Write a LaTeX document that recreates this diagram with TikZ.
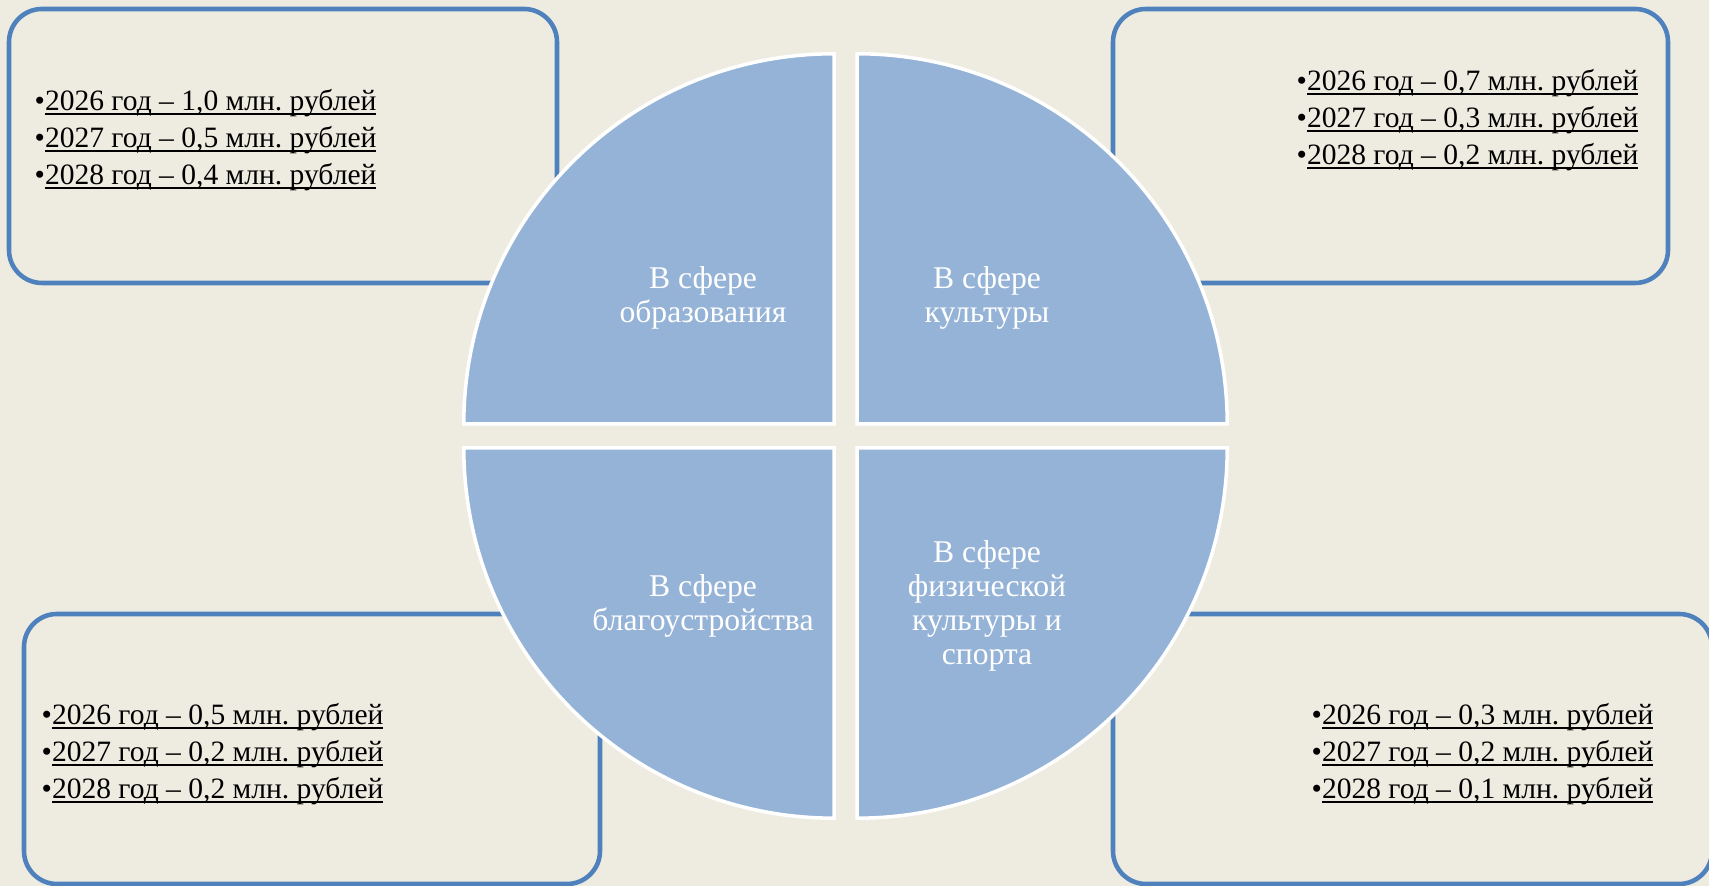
\documentclass[tikz,border=0pt]{standalone}
\usepackage{fontspec}
\setmainfont{Liberation Serif}
\definecolor{bgpaper}{HTML}{EEECE1}
\definecolor{boxline}{HTML}{4F81BD}
\definecolor{sectorfill}{HTML}{95B3D7}
\newcommand{\sumline}[1]{\setbox0\hbox{#1}\rlap{\rule[-1.3pt]{\wd0}{0.55pt}}\box0}
\frenchspacing
\begin{document}
\begin{tikzpicture}[x=0.01cm, y=0.01cm,
		sumbox/.style={draw=boxline, line width=1.3pt, rounded corners=0.33cm, fill=bgpaper},
		quarter/.style={fill=sectorfill, draw=white, line width=1pt},
		sectortext/.style={text=white, align=center, inner sep=0pt, font=\fontsize{9}{9.6}\selectfont},
		sumlist/.style={align=left, anchor=west, inner sep=0pt, font=\fontsize{8.4}{10.5}\selectfont}]
	\fill[bgpaper] (0,0) rectangle (1709,886);
	\useasboundingbox (0,0) rectangle (1709,886);
	\clip (0,0) rectangle (1709,886);
	
	\draw[sumbox] (9,603) rectangle (557,877);
	\draw[sumbox] (1113,603) rectangle (1668,877);
	\draw[sumbox] (24,2) rectangle (600,272);
	\draw[sumbox] (1113,2) rectangle (1712,272);
	
	\node[sumlist] (eduSum) at (34,746) {•\sumline{2026 год – 1,0 млн. рублей}\\•\sumline{2027 год – 0,5 млн. рублей}\\•\sumline{2028 год – 0,4 млн. рублей}};
	\node[sumlist] (cultSum) at (1296,766) {•\sumline{2026 год – 0,7 млн. рублей}\\•\sumline{2027 год – 0,3 млн. рублей}\\•\sumline{2028 год – 0,2 млн. рублей}};
	\node[sumlist] (blagSum) at (41,132) {•\sumline{2026 год – 0,5 млн. рублей}\\•\sumline{2027 год – 0,2 млн. рублей}\\•\sumline{2028 год – 0,2 млн. рублей}};
	\node[sumlist] (sportSum) at (1311,132) {•\sumline{2026 год – 0,3 млн. рублей}\\•\sumline{2027 год – 0,2 млн. рублей}\\•\sumline{2028 год – 0,1 млн. рублей}};
	
	\coordinate (cEdu) at (834,462);
	\coordinate (cCult) at (857,462);
	\coordinate (cBlag) at (834,438);
	\coordinate (cSport) at (857,438);
	\filldraw[quarter] (cEdu) -- ++(-3.7cm,0) arc[start angle=180, end angle=90, radius=3.7cm] -- cycle;
	\filldraw[quarter] (cCult) -- ++(0,3.7cm) arc[start angle=90, end angle=0, radius=3.7cm] -- cycle;
	\filldraw[quarter] (cBlag) -- ++(-3.7cm,0) arc[start angle=180, end angle=270, radius=3.7cm] -- cycle;
	\filldraw[quarter] (cSport) -- ++(3.7cm,0) arc[start angle=0, end angle=-90, radius=3.7cm] -- cycle;
	
	\node[sectortext] (edu) at (703,588) {В сфере\\образования};
	\node[sectortext] (cult) at (987,588) {В сфере\\культуры};
	\node[sectortext] (blag) at (703,280) {В сфере\\благоустройства};
	\node[sectortext] (sport) at (987,280) {В сфере\\физической\\культуры и\\спорта};
\end{tikzpicture}
\end{document}
